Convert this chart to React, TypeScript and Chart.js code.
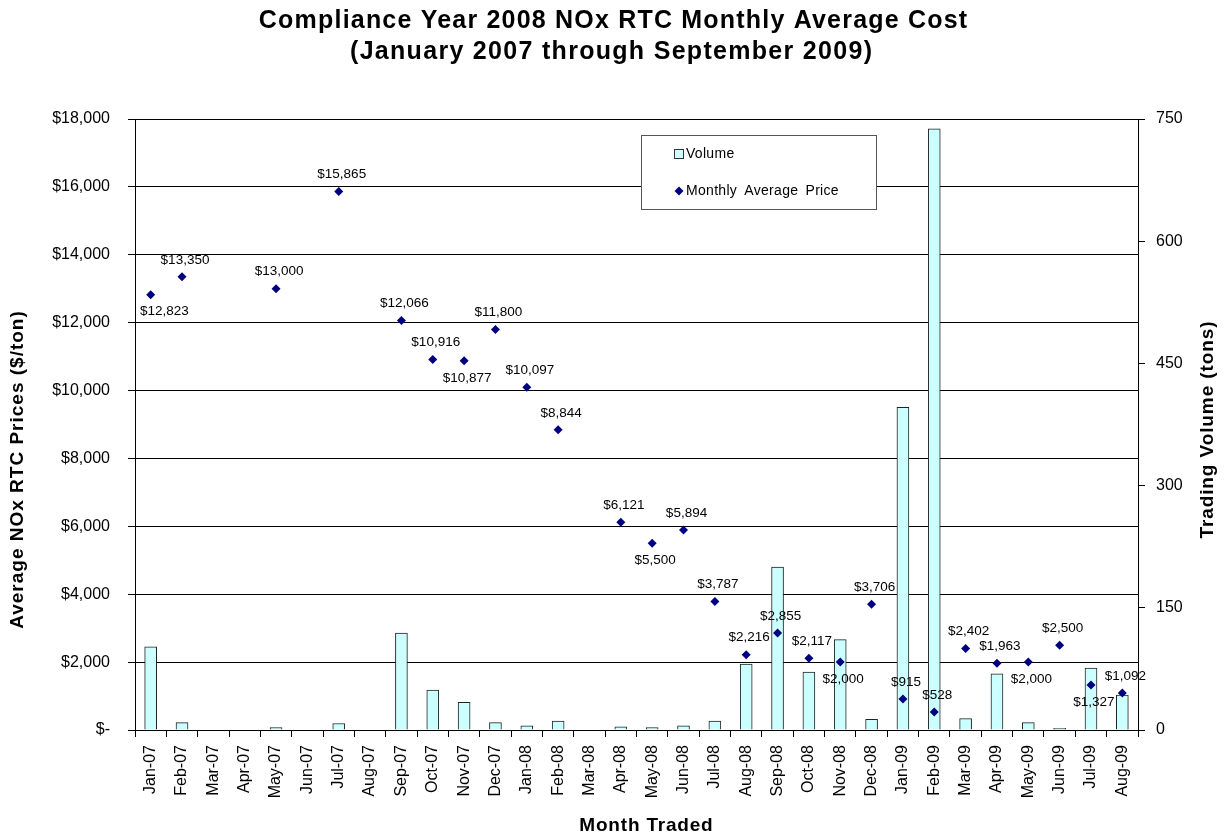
import React, { useEffect, useRef } from 'react';
import { Chart, registerables } from 'chart.js';

Chart.register(...registerables);

const months = [
  'Jan-07', 'Feb-07', 'Mar-07', 'Apr-07', 'May-07', 'Jun-07', 'Jul-07', 'Aug-07',
  'Sep-07', 'Oct-07', 'Nov-07', 'Dec-07', 'Jan-08', 'Feb-08', 'Mar-08', 'Apr-08',
  'May-08', 'Jun-08', 'Jul-08', 'Aug-08', 'Sep-08', 'Oct-08', 'Nov-08', 'Dec-08',
  'Jan-09', 'Feb-09', 'Mar-09', 'Apr-09', 'May-09', 'Jun-09', 'Jul-09', 'Aug-09',
];

const volumeTons = [
  102, 9, 0, 0, 3, 0, 8, 0,
  119, 49, 34, 9, 5, 11, 0, 4,
  3, 5, 11, 81, 200, 71, 111, 13,
  396, 738, 14, 69, 9, 2, 76, 43,
];

const avgPrice: (number | null)[] = [
  12823, 13350, null, null, 13000, null, 15865, null,
  12066, 10916, 10877, 11800, 10097, 8844, null, 6121,
  5500, 5894, 3787, 2216, 2855, 2117, 2000, 3706,
  915, 528, 2402, 1963, 2000, 2500, 1327, 1092,
];

const priceTickMax = 18000;
const priceTickStep = 2000;
const volumeTickMax = 750;
const volumeTickStep = 150;

const titleLines = [
  'Compliance Year 2008 NOx RTC Monthly Average Cost',
  '(January 2007 through September 2009)',
];
const leftAxisTitle = 'Average NOx RTC Prices ($/ton)';
const rightAxisTitle = 'Trading Volume (tons)';
const xAxisTitle = 'Month Traded';

// label placement (below the marker for these months)
const labelsBelow = new Set(['Jan-07', 'Nov-07', 'May-08', 'Nov-08', 'May-09', 'Jul-09']);

const FONT = '"Liberation Sans", Arial, sans-serif';

const fmtMoney = (v: number) => (v === 0 ? '$-' : '$' + v.toLocaleString('en-US'));

function spacedText(ctx: any, txt: string, x: number, y: number, spacing: number, wordSpacing = 0) {
  ctx.letterSpacing = spacing + 'px';
  ctx.wordSpacing = wordSpacing + 'px';
  const align = ctx.textAlign;
  if (align === 'center' && spacing) {
    ctx.fillText(txt, x + spacing / 2, y);
  } else {
    ctx.fillText(txt, x, y);
  }
  ctx.letterSpacing = '0px';
  ctx.wordSpacing = '0px';
}

const decorPlugin = {
  id: 'decor',
  afterDatasetsDraw(chart: any) {
    const { ctx, chartArea } = chart;
    const meta = chart.getDatasetMeta(1);
    ctx.save();
    // data labels
    ctx.font = `13.5px ${FONT}`;
    ctx.fillStyle = '#000';
    ctx.textAlign = 'center';
    ctx.textBaseline = 'middle';
    meta.data.forEach((pt: any, i: number) => {
      const v = avgPrice[i];
      if (v == null) return;
      const txt = fmtMoney(v);
      const w = ctx.measureText(txt).width;
      let x = pt.x + 3;
      if (x - w / 2 < chartArea.left + 5) x = chartArea.left + 5 + w / 2;
      const y = labelsBelow.has(months[i]) ? pt.y + 17 : pt.y - 17;
      ctx.fillText(txt, x, y);
    });

    // legend
    const bx = 641, by = 135, bw = 235, bh = 74;
    ctx.fillStyle = '#fff';
    ctx.fillRect(bx, by, bw, bh);
    ctx.strokeStyle = '#555';
    ctx.lineWidth = 1;
    ctx.strokeRect(bx + 0.5, by + 0.5, bw, bh);
    const ds = chart.data.datasets;
    ctx.textAlign = 'left';
    ctx.font = `14px ${FONT}`;
    // volume swatch
    ctx.fillStyle = '#CCFFFF';
    ctx.fillRect(674, 149, 9, 9);
    ctx.strokeStyle = '#333';
    ctx.strokeRect(674.5, 149.5, 9, 9);
    ctx.fillStyle = '#000';
    spacedText(ctx, ds[0].label, 686, 154, 0.3, 3);
    // price marker
    ctx.fillStyle = '#000080';
    ctx.beginPath();
    ctx.moveTo(679, 186.5);
    ctx.lineTo(683.5, 191);
    ctx.lineTo(679, 195.5);
    ctx.lineTo(674.5, 191);
    ctx.closePath();
    ctx.fill();
    ctx.fillStyle = '#000';
    spacedText(ctx, ds[1].label, 686, 191, 0.3, 3);
    ctx.restore();
  },
  afterDraw(chart: any) {
    const { ctx } = chart;
    ctx.save();
    ctx.fillStyle = '#000';
    ctx.textAlign = 'center';
    ctx.textBaseline = 'middle';
    ctx.font = `bold 25px ${FONT}`;
    spacedText(ctx, titleLines[0], 613, 21, 1.2);
    spacedText(ctx, titleLines[1], 611, 52, 1.3);

    ctx.font = `bold 19px ${FONT}`;
    spacedText(ctx, xAxisTitle, 646, 826, 0.8);

    ctx.save();
    ctx.translate(18, 470);
    ctx.rotate(-Math.PI / 2);
    spacedText(ctx, leftAxisTitle, 0, 0, 1);
    ctx.restore();

    ctx.save();
    ctx.translate(1208, 430);
    ctx.rotate(-Math.PI / 2);
    spacedText(ctx, rightAxisTitle, 0, 0, 0.9);
    ctx.restore();
    ctx.restore();
  },
};

export default function App() {
  const ref = useRef<HTMLCanvasElement | null>(null);

  useEffect(() => {
    if (!ref.current) return;
    const chart = new Chart(ref.current, {
      type: 'bar',
      data: {
        labels: months,
        datasets: [
          {
            type: 'bar',
            label: 'Volume',
            data: volumeTons,
            yAxisID: 'y1',
            backgroundColor: '#CCFFFF',
            borderColor: '#222',
            borderWidth: 1,
            barThickness: 12,
            order: 2,
          } as any,
          {
            type: 'line',
            label: 'Monthly Average Price',
            data: avgPrice,
            yAxisID: 'y',
            showLine: false,
            pointStyle: 'rectRot',
            pointRadius: 4.5,
            pointBorderWidth: 0,
            pointBackgroundColor: '#000080',
            pointBorderColor: '#000080',
            order: 1,
          } as any,
        ],
      },
      options: {
        responsive: true,
        maintainAspectRatio: false,
        animation: false,
        events: [],
        layout: { padding: { top: 119, left: 0, right: 0, bottom: 0 } },
        plugins: {
          legend: { display: false },
          title: { display: false },
          tooltip: { enabled: false },
        },
        scales: {
          x: {
            offset: true,
            grid: {
              offset: true,
              drawOnChartArea: false,
              drawTicks: true,
              tickLength: 7,
              color: '#000',
            },
            border: { display: true, color: '#000', width: 1 },
            ticks: {
              autoSkip: false,
              maxRotation: 90,
              minRotation: 90,
              padding: 8,
              color: '#000',
              font: { family: FONT, size: 16 },
            },
            afterFit(scale: any) {
              scale.height = 105;
            },
          },
          y: {
            position: 'left',
            min: 0,
            max: priceTickMax,
            ticks: {
              stepSize: priceTickStep,
              padding: 18,
              color: '#000',
              font: { family: FONT, size: 16 },
              callback: (v: any) => fmtMoney(Number(v)),
            },
            grid: { color: '#000', tickLength: 7, drawTicks: true },
            border: { display: true, color: '#000', width: 1 },
            afterFit(scale: any) {
              scale.width = 135;
            },
          },
          y1: {
            position: 'right',
            min: 0,
            max: volumeTickMax,
            ticks: {
              stepSize: volumeTickStep,
              padding: 11,
              color: '#000',
              font: { family: FONT, size: 16 },
            },
            grid: { drawOnChartArea: false, color: '#000', tickLength: 7, drawTicks: true },
            border: { display: true, color: '#000', width: 1 },
            afterFit(scale: any) {
              scale.width = 87;
            },
          },
        },
      },
      plugins: [decorPlugin],
    });
    return () => chart.destroy();
  }, []);

  return (
    <div style={{ position: 'fixed', left: 0, top: 0, width: 1225, height: 835, background: '#fff' }}>
      <canvas ref={ref} />
    </div>
  );
}
